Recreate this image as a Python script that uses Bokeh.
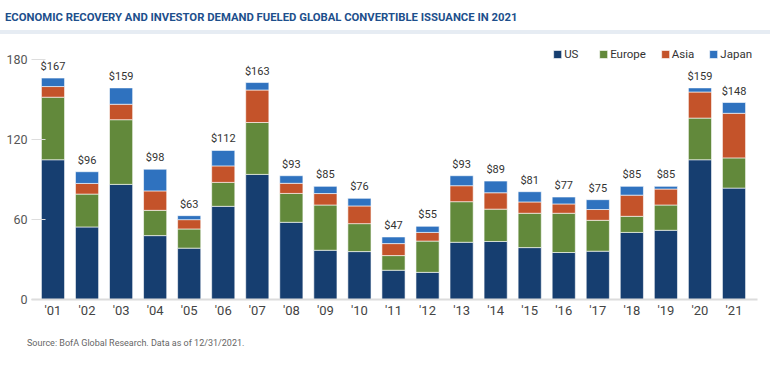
from bokeh.plotting import figure
from bokeh.models import (ColumnDataSource, Range1d, FixedTicker, Div, Legend, LegendItem)
from bokeh.layouts import column
from bokeh.embed import file_html
from bokeh.resources import INLINE
from bokeh.core.properties import value
import numpy as np

years = ["'01", "'02", "'03", "'04", "'05", "'06", "'07", "'08", "'09", "'10", "'11",
         "'12", "'13", "'14", "'15", "'16", "'17", "'18", "'19", "'20", "'21"]
us = [105, 54.5, 86.5, 48, 38.6, 70, 94, 58, 37, 36, 22, 20.4, 43, 43.6, 39, 35.3, 36.3, 50.4, 52, 105, 83.7]
europe = [47, 24.7, 48.6, 19, 14.4, 18, 39, 21.7, 34, 21, 11, 23.5, 30.5, 24.3, 25.8, 29.5, 23.2, 12.1, 19, 31.3, 22.7]
asia = [8, 8, 11.6, 14.6, 7, 12.4, 24.4, 7.6, 8.6, 13.3, 9, 6.5, 12, 12.3, 8.5, 7, 8.1, 15.9, 12, 19.6, 33.5]
japan = [6.4, 8.8, 12.3, 16.3, 3, 11.6, 5.6, 5.7, 5.4, 5.7, 5, 4.6, 7.5, 8.8, 7.7, 5.2, 7.4, 6.6, 2, 3.1, 8.1]
totals = [167, 96, 159, 98, 63, 112, 163, 93, 85, 76, 47, 55, 93, 89, 81, 77, 75, 85, 85, 159, 148]
y_ticks = [0, 60, 120, 180]

series = ["US", "Europe", "Asia", "Japan"]
colors = ["#163e70", "#62893b", "#c4532a", "#2f72bf"]

FONT = "Roboto"

idx = list(range(len(years)))
src = ColumnDataSource(dict(x=idx, US=us, Europe=europe, Asia=asia, Japan=japan))
tops = (np.array(us) + np.array(europe) + np.array(asia) + np.array(japan)).tolist()
lab = ColumnDataSource(dict(x=idx, y=tops, t=["$%d" % v for v in totals]))

p = figure(width=770, height=293, output_backend="svg", toolbar_location=None,
           x_range=Range1d(-0.631, 20.69), y_range=Range1d(0, 193.1),
           min_border_left=31, min_border_right=13, min_border_top=8, min_border_bottom=28)
p.outline_line_color = None
p.grid.visible = False
p.background_fill_color = "white"

rs = p.vbar_stack(series, x="x", width=0.68, color=colors, source=src,
                  line_color="white", line_width=0.6)

p.text(x="x", y="y", text="t", source=lab, y_offset=-5, text_align="center",
       text_baseline="bottom", text_font=value(FONT), text_font_size="11px",
       text_color="#333333")

legend = Legend(items=[LegendItem(label=s, renderers=[r]) for s, r in zip(series, rs)],
                orientation="horizontal", location="top_right",
                border_line_color=None, background_fill_alpha=0,
                glyph_width=10, glyph_height=10, label_standoff=2, spacing=14,
                padding=0, margin=5, label_text_font=FONT, label_text_font_size="11.5px",
                label_text_color="#333333", label_height=10)
p.add_layout(legend)

p.yaxis.ticker = FixedTicker(ticks=y_ticks)
p.yaxis.axis_line_color = None
p.yaxis.major_tick_in = 14
p.yaxis.major_tick_out = 0
p.yaxis.minor_tick_line_color = None
p.yaxis.major_tick_line_color = "#dddddd"
p.yaxis.major_label_standoff = 4
p.yaxis.major_label_text_font = FONT
p.yaxis.major_label_text_font_size = "12.5px"
p.yaxis.major_label_text_color = "#555555"

p.xaxis.ticker = FixedTicker(ticks=idx)
p.xaxis.major_label_overrides = {i: y for i, y in zip(idx, years)}
p.xaxis.axis_line_color = "#dcdcdc"
p.xaxis.axis_line_width = 2
p.xaxis.major_tick_line_color = None
p.xaxis.major_tick_in = 0
p.xaxis.major_tick_out = 0
p.xaxis.minor_tick_line_color = None
p.xaxis.minor_tick_out = 0
p.xaxis.major_label_standoff = 3
p.xaxis.major_label_text_font = FONT
p.xaxis.major_label_text_font_size = "13px"
p.xaxis.major_label_text_color = "#444444"

title = Div(text="ECONOMIC RECOVERY AND INVESTOR DEMAND FUELED GLOBAL CONVERTIBLE ISSUANCE IN 2021",
            width=770, height=34, margin=(0, 0, 0, 0),
            styles={"font-family": FONT, "font-weight": "bold", "font-size": "11.3px",
                    "color": "#1d4f8c", "box-sizing": "border-box", "padding-top": "11px",
                    "padding-left": "5px",
                    "border-bottom": "4px solid #e6ecf3", "line-height": "14px"})
source_note = Div(text="Source: BofA Global Research. Data as of 12/31/2021.",
                  width=770, height=30, margin=(0, 0, 0, 0),
                  styles={"font-family": FONT, "font-size": "9px", "color": "#666666",
                          "padding-top": "10px", "padding-left": "27px", "box-sizing": "border-box",
                          "line-height": "12px"})

layout = column(title, p, source_note, spacing=0)
open("out.html", "w").write(file_html(layout, INLINE))
